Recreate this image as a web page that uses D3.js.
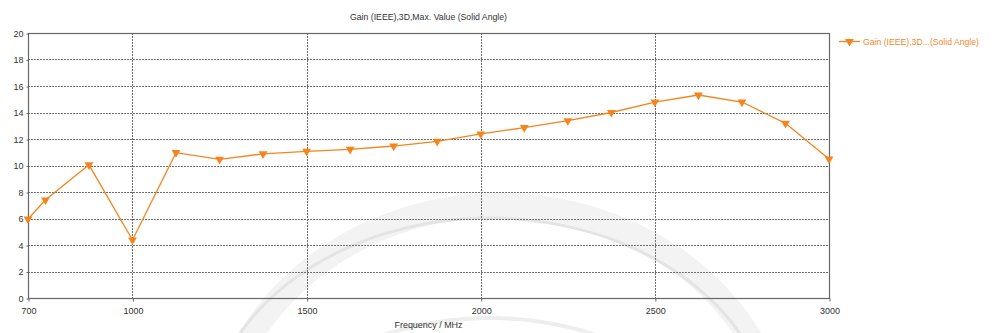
<!DOCTYPE html>
<html>
<head>
<meta charset="utf-8">
<script src="https://cdn.jsdelivr.net/npm/d3@7"></script>
<style>
  html, body { margin: 0; padding: 0; background: #fff; }
  svg { display: block; font-family: "Liberation Sans", Arial, sans-serif; }
</style>
</head>
<body>
<svg id="chart" width="1000" height="333"></svg>
<script>
// ---- data ----
const frequency = [700, 750, 875, 1000, 1125, 1250, 1375, 1500, 1625, 1750, 1875, 2000,
                   2125, 2250, 2375, 2500, 2625, 2750, 2875, 3000];
const gain = [5.96, 7.4, 10.05, 4.38, 10.97, 10.47, 10.88, 11.07, 11.22, 11.47, 11.82, 12.38,
              12.86, 13.38, 14.0, 14.79, 15.32, 14.79, 13.18, 10.49];
const xTicks = [700, 1000, 1500, 2000, 2500, 3000];
const yTicks = [0, 2, 4, 6, 8, 10, 12, 14, 16, 18, 20];
const titleText = "Gain (IEEE),3D,Max. Value (Solid Angle)";
const xLabel = "Frequency / MHz";
const legendLabel = "Gain (IEEE),3D...(Solid Angle)";

// ---- layout ----
const m = { left: 28, right: 829, top: 33, bottom: 298 };
const orange = "#f5841c";
const svg = d3.select("#chart");

const x = d3.scaleLinear().domain([700, 3000]).range([m.left, m.right]);
const y = d3.scaleLinear().domain([0, 20]).range([m.bottom, m.top]);

// ---- faint watermark (decorative) ----
const wm = svg.append("g").attr("fill", "none");
function ellipseArc(cx, cy, rx, ry, a0, a1) {
  const p = d3.range(0, 61).map(i => {
    const a = a0 + (a1 - a0) * i / 60;
    return [cx + rx * Math.cos(a), cy - ry * Math.sin(a)];
  });
  return d3.line()(p);
}
wm.append("path")
  .attr("d", ellipseArc(500, 460, 285, 255, Math.PI * 0.93, Math.PI * 0.12))
  .attr("stroke", "#f3f3f3").attr("stroke-width", 24).attr("stroke-linecap", "round");
wm.append("path")
  .attr("d", ellipseArc(490, 440, 285, 222, Math.PI * 0.92, Math.PI * 0.08))
  .attr("stroke", "#e4e4e4").attr("stroke-width", 3);
wm.append("path")
  .attr("d", ellipseArc(490, 470, 230, 152, Math.PI * 0.85, Math.PI * 0.15))
  .attr("stroke", "#eeeeee").attr("stroke-width", 4);

// ---- grid ----
const grid = svg.append("g")
  .attr("stroke", "#6e6e6e").attr("stroke-width", 1).attr("stroke-dasharray", "2,1");
grid.selectAll("line.h")
  .data(yTicks.filter(t => t > 0 && t < 20))
  .join("line")
  .attr("x1", m.left).attr("x2", m.right)
  .attr("y1", d => Math.round(y(d)) + 0.5).attr("y2", d => Math.round(y(d)) + 0.5);
grid.selectAll("line.v")
  .data(xTicks.filter(t => t > 700 && t < 3000))
  .join("line")
  .attr("y1", m.top).attr("y2", m.bottom)
  .attr("x1", d => Math.round(x(d)) + 0.5).attr("x2", d => Math.round(x(d)) + 0.5);

// ---- frame ----
svg.append("rect")
  .attr("x", m.left + 0.5).attr("y", m.top + 0.5)
  .attr("width", m.right - m.left).attr("height", m.bottom - m.top)
  .attr("fill", "none").attr("stroke", "#666").attr("stroke-width", 1.2);

// ---- axes ----
const xAxis = d3.axisBottom(x).tickValues(xTicks).tickSize(3).tickPadding(6).tickFormat(d3.format("d"));
const gx = svg.append("g").attr("transform", `translate(0.5,${m.bottom + 0.5})`).call(xAxis);
gx.select(".domain").remove();
gx.selectAll("line").attr("stroke", "#666");
gx.selectAll("text").attr("font-size", 9).attr("fill", "#333")
  .attr("font-family", "Liberation Sans, Arial, sans-serif");

const yAxis = d3.axisLeft(y).tickValues(yTicks).tickSize(2).tickPadding(3).tickFormat(d3.format("d"));
const gy = svg.append("g").attr("transform", `translate(${m.left + 0.5},0.5)`).call(yAxis);
gy.select(".domain").remove();
gy.selectAll("line").attr("stroke", "#666");
gy.selectAll("text").attr("font-size", 9).attr("fill", "#333")
  .attr("font-family", "Liberation Sans, Arial, sans-serif");

// ---- title & axis label ----
svg.append("text")
  .attr("x", (m.left + m.right) / 2).attr("y", 20)
  .attr("text-anchor", "middle").attr("font-size", 9.5).attr("fill", "#333")
  .attr("textLength", 157).attr("lengthAdjust", "spacingAndGlyphs")
  .text(titleText);
svg.append("text")
  .attr("x", (m.left + m.right) / 2).attr("y", 328)
  .attr("text-anchor", "middle").attr("font-size", 9.5).attr("fill", "#333")
  .attr("textLength", 68).attr("lengthAdjust", "spacingAndGlyphs")
  .text(xLabel);

// ---- series ----
const pts = frequency.map((f, i) => [f, gain[i]]);
svg.append("path")
  .datum(pts)
  .attr("fill", "none").attr("stroke", orange).attr("stroke-width", 1.3)
  .attr("d", d3.line().x(d => x(d[0])).y(d => y(d[1])));

const tri = d3.symbol().type(d3.symbolTriangle).size(34);
svg.append("g").selectAll("path")
  .data(pts)
  .join("path")
  .attr("d", tri)
  .attr("transform", d => `translate(${x(d[0])},${y(d[1])}) rotate(180)`)
  .attr("fill", orange);

// ---- legend ----
const lg = svg.append("g").attr("transform", "translate(839,41)");
lg.append("line").attr("x1", 0).attr("x2", 21).attr("y1", 0.5).attr("y2", 0.5)
  .attr("stroke", orange).attr("stroke-width", 1.3);
lg.append("path").attr("d", tri).attr("transform", "translate(10.5,0.5) rotate(180)").attr("fill", orange);
lg.append("text").attr("x", 24).attr("y", 4)
  .attr("font-size", 9.5).attr("fill", "#f08a2c")
  .attr("textLength", 116).attr("lengthAdjust", "spacingAndGlyphs")
  .text(legendLabel);
</script>
</body>
</html>
